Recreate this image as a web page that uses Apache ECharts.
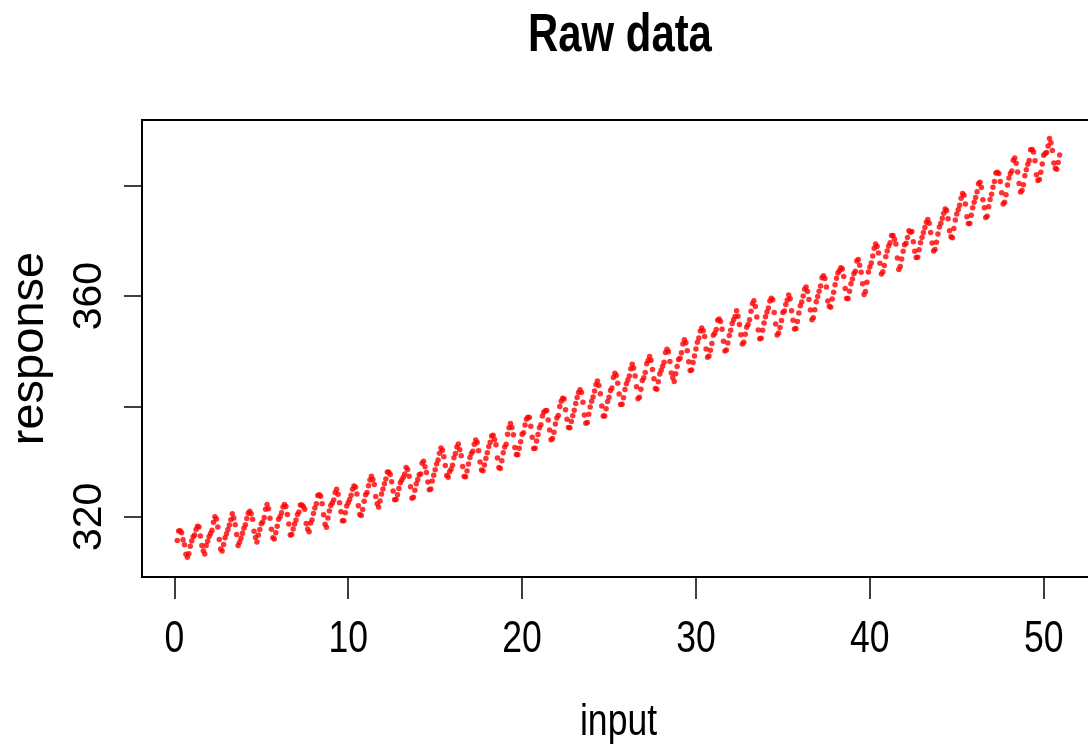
<!DOCTYPE html>
<html>
<head>
<meta charset="utf-8">
<script src="https://cdn.jsdelivr.net/npm/echarts@6/dist/echarts.min.js"></script>
<style>html,body{margin:0;padding:0;background:#fff}#c{width:1088px;height:749px}</style>
</head>
<body>
<div id="c"></div>
<script>
// Monthly response values, first value is March 1958 (input measured in years since Jan 1958)
const startMonthOffset = 2; // March = 2 months after January 1958
const resp1958_1964 = [
  315.71, 317.45, 317.50, 317.10, 315.86, 314.93, 313.20, 312.66, 313.33, 314.67,
  315.62, 316.38, 316.71, 317.72, 318.29, 318.15, 316.54, 314.80, 313.84, 313.26, 314.80, 315.58,
  316.43, 316.97, 317.58, 319.02, 320.03, 319.59, 318.18, 315.91, 314.16, 313.83, 315.00, 316.19,
  316.93, 317.70, 318.54, 319.48, 320.58, 319.77, 318.57, 316.79, 314.80, 315.38, 316.10, 317.01,
  317.94, 318.56, 319.68, 320.63, 321.01, 320.55, 319.58, 317.40, 316.26, 315.42, 316.69, 317.69,
  318.74, 319.08, 319.86, 321.39, 322.25, 321.47, 319.74, 317.77, 316.21, 315.99, 317.12, 318.31,
  319.57, 320.07, 320.73, 321.77, 322.25, 321.89, 320.44, 318.70, 316.70, 316.79, 317.79, 318.71
];
const resp1965_1974 = [
  319.44, 320.44, 320.89, 322.13, 322.16, 321.87, 321.39, 318.81, 317.81, 317.30, 318.87, 319.42,
  320.62, 321.59, 322.39, 323.87, 324.01, 323.75, 322.39, 320.37, 318.64, 318.10, 319.79, 321.08,
  322.07, 322.50, 323.04, 324.42, 325.00, 324.09, 322.55, 320.92, 319.31, 319.31, 320.72, 321.96,
  322.57, 323.15, 323.89, 325.02, 325.57, 325.36, 324.14, 322.03, 320.41, 320.25, 321.31, 322.84,
  324.00, 324.42, 325.64, 326.66, 327.34, 326.76, 325.88, 323.67, 322.38, 321.78, 322.85, 324.12,
  325.03, 325.99, 326.87, 328.13, 328.07, 327.66, 326.35, 324.69, 323.10, 323.16, 323.98, 325.13,
  326.17, 326.68, 327.18, 327.78, 328.92, 328.57, 327.34, 325.46, 323.36, 323.57, 324.80, 326.01,
  326.77, 327.63, 327.75, 329.72, 330.07, 329.09, 328.05, 326.32, 324.93, 325.06, 326.50, 327.55,
  328.54, 329.56, 330.30, 331.50, 332.48, 332.07, 330.87, 329.31, 327.51, 327.18, 328.16, 328.64,
  329.35, 330.71, 331.48, 332.65, 333.20, 332.16, 331.07, 329.12, 327.32, 327.28, 328.30, 329.58
];
const resp1975_1984 = [
  330.73, 331.46, 331.90, 333.17, 333.94, 333.45, 331.97, 329.95, 328.50, 328.34, 329.37, 330.58,
  331.59, 332.75, 333.52, 334.64, 334.77, 334.00, 333.06, 330.68, 328.95, 328.75, 330.15, 331.62,
  332.66, 333.13, 334.95, 336.13, 336.93, 336.17, 334.88, 332.56, 331.29, 331.27, 332.41, 333.60,
  334.95, 335.25, 336.66, 337.69, 338.03, 338.01, 336.41, 334.41, 332.37, 332.41, 333.75, 334.90,
  336.14, 336.69, 338.27, 338.95, 339.21, 339.26, 337.54, 335.75, 333.98, 334.19, 335.31, 336.81,
  337.90, 338.34, 340.01, 340.93, 341.48, 341.33, 339.40, 337.70, 336.19, 336.15, 337.27, 338.32,
  339.29, 340.55, 341.61, 342.53, 343.03, 342.54, 340.78, 338.44, 336.95, 337.08, 338.58, 339.88,
  340.96, 341.73, 342.81, 343.97, 344.63, 343.79, 342.32, 340.09, 338.28, 338.29, 339.60, 340.90,
  341.68, 342.90, 343.33, 345.25, 346.03, 345.63, 344.19, 342.27, 340.35, 340.38, 341.59, 343.05,
  344.10, 344.79, 345.52, 346.84, 347.63, 346.97, 345.53, 343.55, 341.40, 341.67, 343.10, 344.70
];
const resp1985_1994 = [
  345.21, 346.16, 347.74, 348.34, 349.06, 348.38, 346.71, 345.02, 343.27, 343.13, 344.49, 345.88,
  346.56, 347.28, 348.01, 349.77, 350.38, 349.93, 348.16, 346.08, 345.22, 344.51, 345.93, 347.22,
  348.52, 348.73, 349.73, 351.31, 352.09, 351.53, 350.11, 348.08, 346.52, 346.59, 347.96, 349.16,
  350.39, 351.64, 352.41, 353.69, 354.21, 353.72, 352.69, 350.40, 348.92, 349.13, 350.20, 351.41,
  352.91, 353.27, 353.96, 355.64, 355.86, 355.37, 353.99, 351.81, 350.05, 350.25, 351.49, 352.85,
  353.80, 355.04, 355.73, 356.32, 357.32, 356.34, 354.84, 353.01, 351.31, 351.62, 353.07, 354.33,
  354.84, 355.73, 357.23, 358.66, 359.13, 358.13, 356.19, 353.85, 352.25, 352.35, 353.81, 355.12,
  356.25, 357.11, 357.86, 359.09, 359.59, 359.33, 357.01, 354.94, 352.96, 353.32, 354.32, 355.57,
  357.00, 357.31, 358.47, 359.27, 360.19, 359.52, 357.33, 355.64, 354.03, 354.12, 355.41, 356.91,
  358.24, 358.92, 359.99, 361.23, 361.65, 360.81, 359.38, 357.46, 355.73, 356.07, 357.53, 358.98
];
const resp1995_2008 = [
  359.92, 360.86, 361.83, 363.30, 363.69, 363.19, 361.64, 359.12, 358.17, 357.99, 359.45, 360.68,
  362.07, 363.24, 364.17, 364.57, 365.13, 364.92, 363.55, 361.38, 359.54, 359.58, 360.89, 362.24,
  363.09, 364.03, 364.51, 366.35, 366.64, 365.59, 364.31, 362.25, 360.29, 360.82, 362.49, 364.38,
  365.27, 365.98, 367.24, 368.66, 369.42, 368.99, 367.82, 365.95, 364.02, 364.40, 365.52, 367.13,
  368.18, 369.07, 369.68, 370.99, 370.96, 370.30, 369.45, 366.90, 364.81, 365.37, 366.72, 368.10,
  369.29, 369.55, 370.60, 371.82, 371.58, 371.70, 369.86, 368.13, 367.00, 367.03, 368.37, 369.67,
  370.59, 371.51, 372.43, 373.37, 373.85, 373.21, 371.51, 369.61, 368.18, 368.45, 369.76, 371.24,
  372.53, 373.20, 374.12, 375.02, 375.76, 375.52, 374.01, 371.85, 370.75, 370.55, 372.25, 373.79,
  374.88, 375.64, 376.45, 377.73, 378.60, 378.28, 376.70, 374.38, 373.17, 373.15, 374.66, 375.99,
  377.00, 377.87, 378.88, 380.35, 380.62, 379.69, 377.47, 376.01, 374.25, 374.46, 376.16, 377.51,
  378.46, 379.73, 380.77, 382.29, 382.45, 382.21, 380.74, 378.74, 376.70, 377.00, 378.35, 380.11,
  381.38, 382.19, 382.67, 384.61, 385.03, 384.05, 382.46, 380.41, 378.85, 379.13, 380.15, 381.82,
  382.89, 383.90, 384.58, 386.50, 386.56, 386.10, 384.50, 381.99, 380.96, 381.12, 382.45, 383.95,
  385.52, 385.82, 386.03, 387.21, 388.54, 387.76, 386.36, 384.09, 383.18, 382.99, 384.19, 385.56
];
const xTicks = [0, 10, 20, 30, 40, 50];
const yTicks = [320, 340, 360, 380];
const yTickLabels = [320, 360];
const titleText = 'Raw data';
const xName = 'input';
const yName = 'response';

const responses = [].concat(resp1958_1964, resp1965_1974, resp1975_1984, resp1985_1994, resp1995_2008);
const points = responses.map((v, i) => [(startMonthOffset + i) / 12, v]);

const chart = echarts.init(document.getElementById('c'), null, {renderer: 'canvas'});
const font = "'Liberation Sans', Arial, sans-serif";
const squeeze = 0.79;
chart.setOption({
  animation: false,
  backgroundColor: '#fff',
  grid: {left: 142, top: 120, width: 953, height: 457, show: true, borderColor: '#000', borderWidth: 2,
         backgroundColor: 'transparent', containLabel: false, outerBoundsMode: 'none'},
  xAxis: {
    type: 'value', min: -1.86, max: 52.95,
    axisLine: {show: false, onZero: false},
    splitLine: {show: false},
    axisTick: {show: true, length: 22, lineStyle: {color: '#000', width: 1.5}, customValues: xTicks},
    axisLabel: {show: false}
  },
  yAxis: {
    type: 'value', min: 309.1, max: 391.9,
    axisLine: {show: false, onZero: false},
    splitLine: {show: false},
    axisTick: {show: true, length: 18, lineStyle: {color: '#000', width: 1.5}, customValues: yTicks},
    axisLabel: {customValues: yTickLabels, rotate: 90, fontFamily: font, fontSize: 41, color: '#000', margin: 32},
    name: yName, nameLocation: 'middle', nameRotate: 90, nameGap: 88,
    nameTextStyle: {fontFamily: font, fontSize: 47, color: '#000'}
  },
  series: [{
    type: 'scatter', data: points, symbol: 'circle', symbolSize: 5.5,
    itemStyle: {color: '#ff0000'}, silent: true
  }]
});

// Horizontal texts drawn slightly condensed, placed through the axis scale
const g = [];
g.push({type: 'text', x: 620, y: 36, scaleX: squeeze,
  style: {text: titleText, fontFamily: font, fontWeight: 'bold', fontSize: 53, fill: '#000', textAlign: 'center', textVerticalAlign: 'middle'}});
xTicks.forEach(v => {
  const px = chart.convertToPixel({xAxisIndex: 0}, v);
  g.push({type: 'text', x: px, y: 640, scaleX: squeeze,
    style: {text: String(v), fontFamily: font, fontSize: 45, fill: '#000', textAlign: 'center', textVerticalAlign: 'middle'}});
});
const xMid = chart.convertToPixel({xAxisIndex: 0}, (-1.86 + 52.95) / 2);
g.push({type: 'text', x: xMid, y: 723, scaleX: squeeze,
  style: {text: xName, fontFamily: font, fontSize: 45, fill: '#000', textAlign: 'center', textVerticalAlign: 'middle'}});
chart.setOption({graphic: g});
</script>
</body>
</html>
